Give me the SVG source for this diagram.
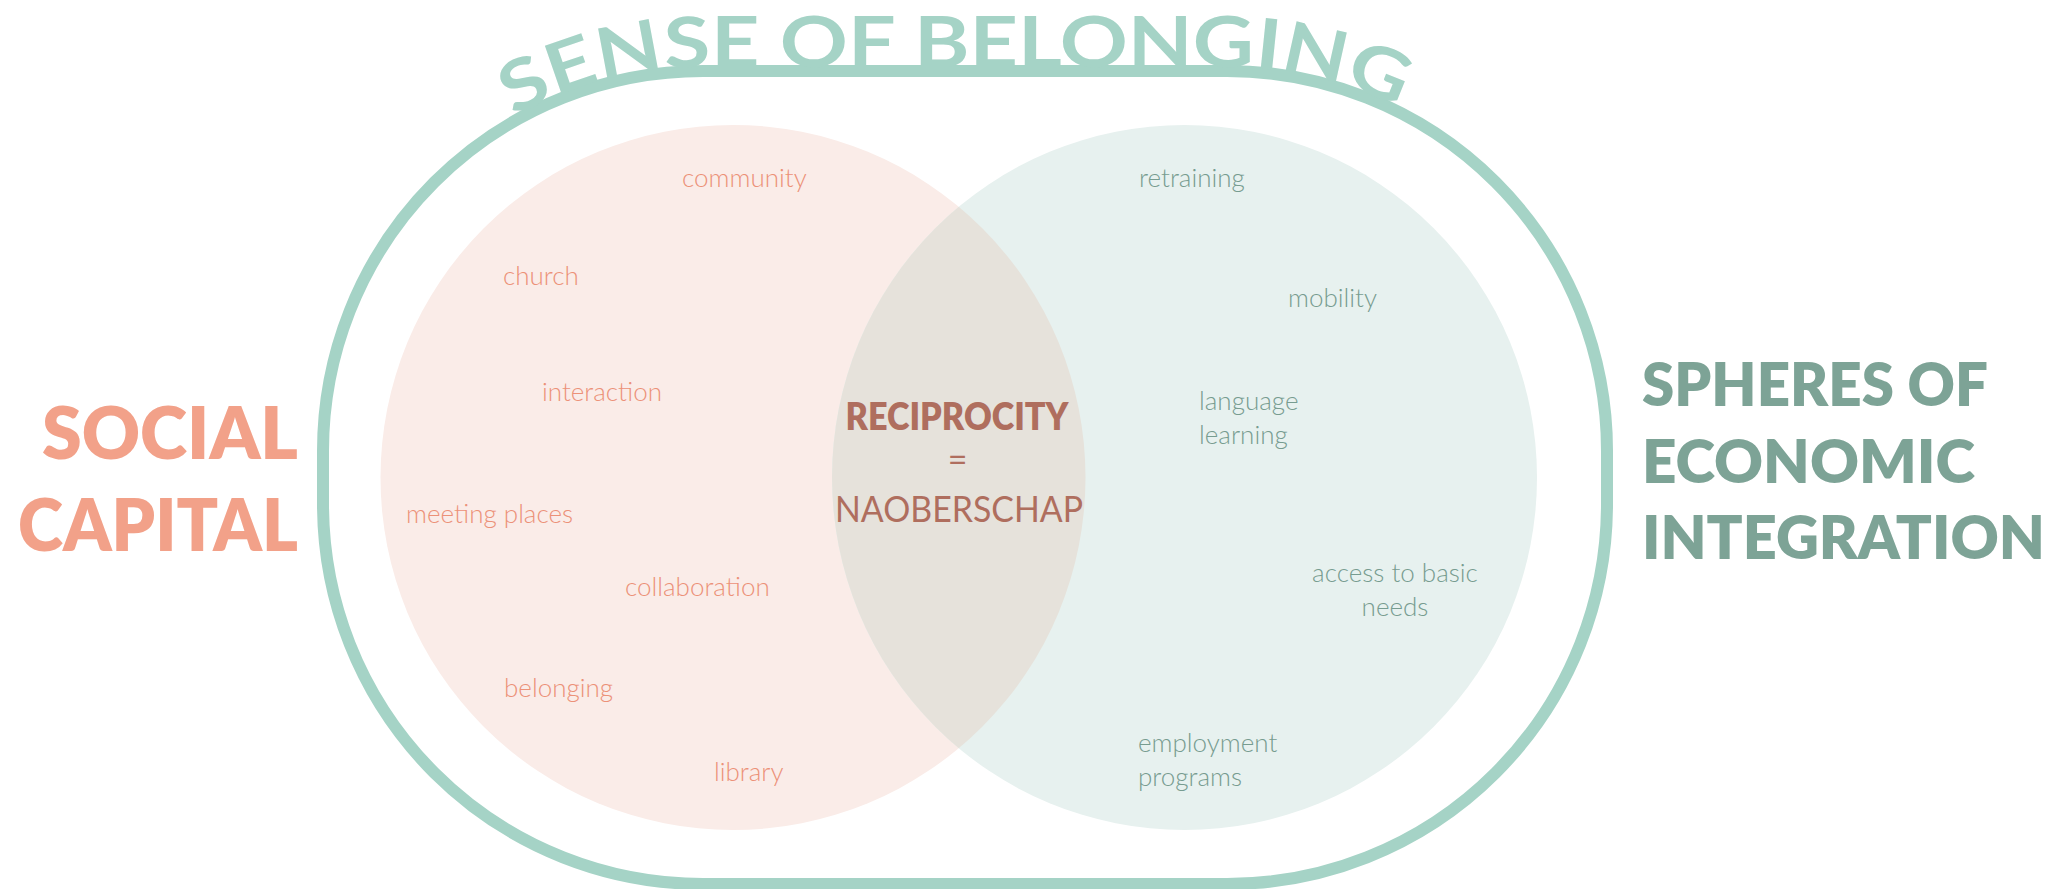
<svg xmlns="http://www.w3.org/2000/svg" width="2068" height="889" viewBox="0 0 2068 889">
  <style>
    .lbl { font-family: Lato, "Open Sans", "Liberation Sans", sans-serif; font-size: 26px; font-weight: 300; }
    .pink { fill: #EC9178; }
    .green { fill: #779C90; }
    .big { font-family: Lato, "Liberation Sans", sans-serif; font-weight: 800; }
    .title { font-family: Lato, "Liberation Sans", sans-serif; font-weight: 700; }
  </style>
  <defs>
    <clipPath id="clipGreen">
      <circle cx="1184.5" cy="477.5" r="352.5"/>
    </clipPath>
    <path id="titlePath" d="M 319,451 A 384 384 0 0 1 703,67 L 1227,67 A 384 384 0 0 1 1611,451" fill="none"/>
  </defs>
  <rect width="2068" height="889" fill="#FFFFFF"/>

  <g id="outer-belonging">
    <rect x="323" y="71" width="1284" height="813" rx="380" ry="380" fill="none" stroke="#A5D3C6" stroke-width="12"/>
    <text class="title" font-size="70" fill="#A5D3C6"><textPath href="#titlePath" startOffset="855" text-anchor="middle" textLength="900" lengthAdjust="spacingAndGlyphs">SENSE OF BELONGING</textPath></text>
  </g>

  <g id="social-capital">
    <circle cx="733" cy="477.5" r="352.5" fill="#FAECE8"/>
    <text class="lbl pink" x="682" y="187">community</text>
    <text class="lbl pink" x="503" y="285">church</text>
    <text class="lbl pink" x="542" y="401">interaction</text>
    <text class="lbl pink" x="406" y="523">meeting places</text>
    <text class="lbl pink" x="625" y="596">collaboration</text>
    <text class="lbl pink" x="504" y="697">belonging</text>
    <text class="lbl pink" x="714" y="781">library</text>
  </g>

  <g id="economic-integration">
    <circle cx="1184.5" cy="477.5" r="352.5" fill="#E7F1EF"/>
    <text class="lbl green" x="1139" y="187">retraining</text>
    <text class="lbl green" x="1288" y="307">mobility</text>
    <text class="lbl green" x="1199" y="410">language<tspan x="1199" y="444">learning</tspan></text>
    <text class="lbl green" x="1395" y="582" text-anchor="middle">access to basic<tspan x="1395" y="616">needs</tspan></text>
    <text class="lbl green" x="1138" y="752">employment<tspan x="1138" y="786">programs</tspan></text>
  </g>

  <g id="reciprocity">
    <circle cx="733" cy="477.5" r="352.5" fill="#E6E2DB" clip-path="url(#clipGreen)"/>
    <text class="big" x="957" y="430" font-size="37" fill="#AF6E5E" text-anchor="middle" textLength="223" lengthAdjust="spacingAndGlyphs">RECIPROCITY</text>
    <text x="957.5" y="472" font-family="Lato, 'Liberation Sans', sans-serif" font-weight="400" font-size="34" fill="#AF6E5E" text-anchor="middle">=</text>
    <text x="959" y="522" font-family="Lato, 'Liberation Sans', sans-serif" font-weight="400" font-size="36" fill="#AF6E5E" text-anchor="middle" textLength="248" lengthAdjust="spacingAndGlyphs">NAOBERSCHAP</text>
  </g>

  <g id="title-social-capital">
    <text class="big" x="298" y="459" font-size="71" fill="#F2A189" text-anchor="end" textLength="256" lengthAdjust="spacingAndGlyphs">SOCIAL</text>
    <text class="big" x="298" y="551" font-size="71" fill="#F2A189" text-anchor="end" textLength="280" lengthAdjust="spacingAndGlyphs">CAPITAL</text>
  </g>

  <g id="title-economic">
    <text class="big" x="1642" y="406" font-size="61" fill="#7DA396" textLength="346" lengthAdjust="spacingAndGlyphs">SPHERES OF</text>
    <text class="big" x="1642" y="483" font-size="61" fill="#7DA396" textLength="333" lengthAdjust="spacingAndGlyphs">ECONOMIC</text>
    <text class="big" x="1642" y="559" font-size="61" fill="#7DA396" textLength="403" lengthAdjust="spacingAndGlyphs">INTEGRATION</text>
  </g>

  <g id="connectors"/>
</svg>
